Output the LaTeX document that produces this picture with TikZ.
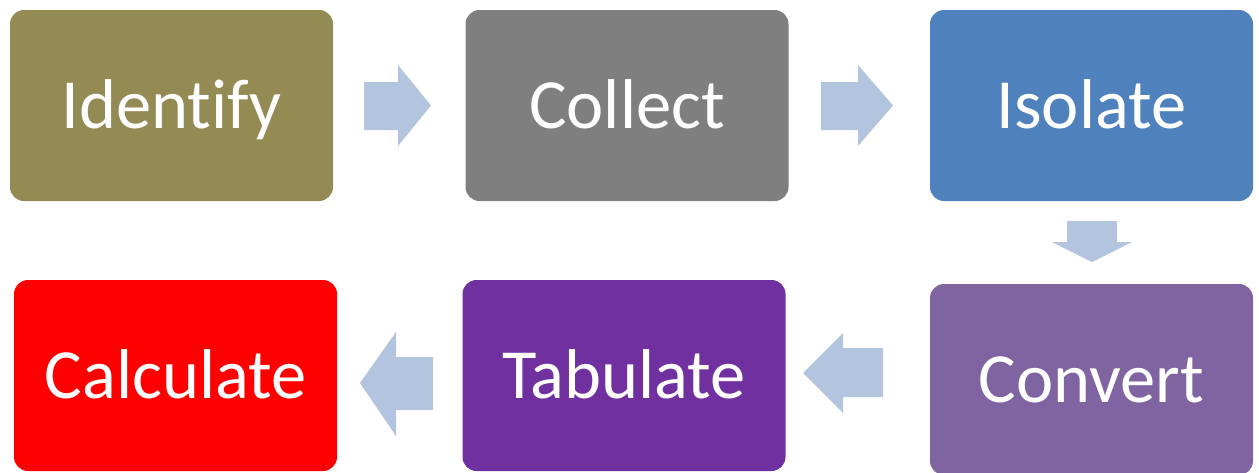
\documentclass[tikz,border=0pt]{standalone}
\usepackage{fontspec}
\setmainfont{Carlito}[Ligatures=NoCommon]
\definecolor{identifyc}{HTML}{948A54}
\definecolor{collectc}{HTML}{7F7F7F}
\definecolor{isolatec}{HTML}{4F81BD}
\definecolor{convertc}{HTML}{8064A2}
\definecolor{tabulatec}{HTML}{7030A0}
\definecolor{calculatec}{HTML}{FF0000}
\definecolor{flowc}{HTML}{B3C4DE}
\begin{document}
\begin{tikzpicture}[x=1pt,y=-1pt,
  stage/.style={rounded corners=14pt, minimum width=323pt, minimum height=191pt,
    inner sep=0pt, text=white, text height=45pt, text depth=0pt,
    font=\fontsize{70.5}{84}\selectfont},
  flow/.style={fill=flowc}]
\useasboundingbox (0,0) rectangle (1259,472);

% process stages
\node[stage, fill=identifyc]  (identify)  at (171.5,105.5) {Identify};
\node[stage, fill=collectc]   (collect)   at (627,105.5)   {Collect};
\node[stage, fill=isolatec]   (isolate)   at (1091.5,105.5) {Isolate};
\node[stage, fill=convertc]   (convert)   at (1091.5,379.5) {Convert};
\node[stage, fill=tabulatec]  (tabulate)  at (624,375.5)   {Tabulate};
\node[stage, fill=calculatec] (calculate) at (175.5,375.5) {Calculate};

% block arrows between stages
\fill[flow] (364,82) -- (398,82) -- (398,65) -- (431,105.5) -- (398,146) -- (398,130) -- (364,130) -- cycle;
\fill[flow] (821,82) -- (858,82) -- (858,65) -- (893,105.5) -- (858,146) -- (858,130) -- (821,130) -- cycle;
\fill[flow] (1067,221) -- (1117,221) -- (1117,242) -- (1132,242) -- (1092,262) -- (1052,242) -- (1067,242) -- cycle;
\fill[flow] (883,348) -- (843,348) -- (843,333) -- (803,373) -- (843,413) -- (843,397) -- (883,397) -- cycle;
\fill[flow] (433,357) -- (396,357) -- (396,332) -- (360,383) -- (396,436) -- (396,410) -- (433,410) -- cycle;
\end{tikzpicture}
\end{document}
